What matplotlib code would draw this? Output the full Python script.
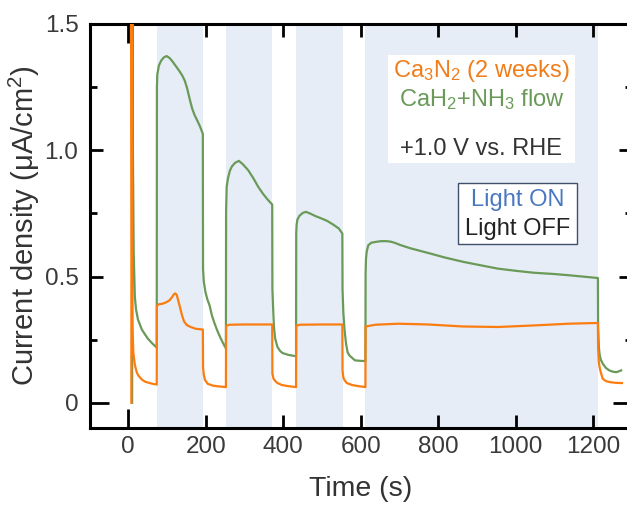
import matplotlib
matplotlib.use("Agg")
import matplotlib.pyplot as plt
from matplotlib.ticker import FixedLocator
from matplotlib.patches import Rectangle

plt.rcParams['font.family'] = ['Liberation Sans', 'DejaVu Sans']
plt.rcParams['mathtext.fontset'] = 'custom'
plt.rcParams['mathtext.rm'] = 'Liberation Sans'
plt.rcParams['mathtext.it'] = 'Liberation Sans:italic'

# ---------------- data ----------------
light_on_start = [74, 252, 433, 612]
light_on_end = [193, 372, 553, 1212]

green_t = [10, 10.5, 12, 14, 17, 20, 25, 35, 50, 62, 73.5,
           74, 75, 79, 85, 92, 99, 107, 115, 122, 130, 139, 146, 152, 159, 165, 171, 178, 185, 192.5,
           193, 195, 199, 204, 210, 216, 223, 230, 238, 246, 252,
           252.5, 254, 257.5, 262.5, 267.5, 275.5, 285.5, 295.5, 309.5, 322.5, 335.5, 347.5, 359.5, 371.5,
           372, 374, 376, 379, 385, 392, 398, 412, 433,
           433.5, 434.5, 436.5, 441.5, 450.5, 458.5, 468.5, 483.5, 498.5, 513.5, 528.5, 543.5, 552.5,
           553, 555, 558, 562, 566, 571, 585, 598, 612,
           612.5, 613.5, 615.5, 619.5, 627.5, 638.5, 652.5, 665.5, 677.5, 688.5, 701.5, 727.5, 774.5,
           817.5, 864.5, 907.5, 954.5, 997.5, 1045.5, 1097.5, 1136.5, 1177.5, 1212,
           1212.5, 1214.5, 1216.5, 1219.5, 1224.5, 1232.5, 1241.5, 1250.5, 1259.5, 1272]
green_v = [0.0, 1.8, 1.0, 0.6, 0.42, 0.37, 0.33, 0.29, 0.255, 0.235, 0.218,
           1.25, 1.30, 1.335, 1.355, 1.368, 1.373, 1.365, 1.35, 1.335, 1.318, 1.297, 1.275, 1.245, 1.2, 1.165, 1.14, 1.118, 1.095, 1.065,
           0.53, 0.48, 0.44, 0.41, 0.385, 0.345, 0.313, 0.285, 0.257, 0.232, 0.215,
           0.76, 0.855, 0.89, 0.92, 0.936, 0.95, 0.958, 0.945, 0.921, 0.89, 0.855, 0.828, 0.805, 0.785,
           0.45, 0.37, 0.30, 0.255, 0.221, 0.205, 0.197, 0.19, 0.184,
           0.67, 0.705, 0.725, 0.74, 0.752, 0.756, 0.75, 0.739, 0.73, 0.72, 0.706, 0.69, 0.67,
           0.45, 0.36, 0.29, 0.235, 0.2, 0.187, 0.168, 0.166, 0.165,
           0.51, 0.57, 0.60, 0.624, 0.634, 0.637, 0.64, 0.64, 0.638, 0.633, 0.625, 0.612, 0.593,
           0.575, 0.558, 0.545, 0.531, 0.523, 0.515, 0.51, 0.505, 0.499, 0.494,
           0.30, 0.22, 0.19, 0.17, 0.155, 0.138, 0.128, 0.123, 0.121, 0.128]

orange_t = [8, 8.5, 10, 11, 13, 17, 22, 26, 35, 44, 60, 73.5,
            74, 79, 88, 97, 106, 113, 118, 121, 125, 129, 134, 139, 144, 151, 161, 174, 192.5,
            193, 195, 198, 205, 218, 232, 252,
            252.5, 262, 300, 340, 371.5,
            372, 375, 380, 385, 397, 412, 433,
            433.5, 443, 500, 552.5,
            553, 555, 558, 564, 578, 593, 612,
            612.5, 638, 697, 774, 864, 954, 1045, 1136, 1212,
            1212.5, 1214.5, 1216.5, 1219.5, 1224.5, 1232.5, 1241.5, 1257, 1274]
orange_v = [0.0, 1.8, 0.5, 0.3, 0.2, 0.15, 0.12, 0.108, 0.092, 0.083, 0.076, 0.072,
            0.385, 0.39, 0.392, 0.397, 0.405, 0.418, 0.43, 0.433, 0.428, 0.405, 0.375, 0.345, 0.322, 0.308, 0.30, 0.293, 0.29,
            0.14, 0.11, 0.09, 0.075, 0.068, 0.065, 0.062,
            0.305, 0.309, 0.31, 0.31, 0.31,
            0.115, 0.095, 0.085, 0.078, 0.07, 0.066, 0.062,
            0.305, 0.309, 0.31, 0.31,
            0.128, 0.10, 0.09, 0.078, 0.07, 0.066, 0.062,
            0.302, 0.309, 0.313, 0.31, 0.302, 0.30, 0.306, 0.313, 0.316,
            0.22, 0.16, 0.14, 0.12, 0.095, 0.086, 0.082, 0.079, 0.078]

x_ticks = [0, 200, 400, 600, 800, 1000, 1200]
x_ticklabels = ['0', '200', '400', '600', '800', '1000', '1200']
y_ticks = [0, 0.5, 1.0, 1.5]
y_ticklabels = ['0', '0.5', '1.0', '1.5']
y_minor = [0.25, 0.75, 1.25]

# ---------------- figure ----------------
W, H = 627, 505
fig = plt.figure(figsize=(W / 100, H / 100), dpi=100)
ax = fig.add_axes([89.5 / W, 1 - 428 / H, (632 - 89.5) / W, (428 - 24) / H])

shade = '#e6edf6'
for s, e in zip(light_on_start, light_on_end):
    ax.axvspan(s, e, color=shade, lw=0, zorder=0)

ax.plot(green_t, green_v, color='#6a9a58', lw=1.6, zorder=3)
ax.plot(orange_t, orange_v, color='#fb7d10', lw=1.6, zorder=4)

ax.set_xlim(-100, 1300)
ax.set_ylim(-0.1, 1.5)

ax.xaxis.set_major_locator(FixedLocator(x_ticks))
ax.set_xticklabels(x_ticklabels)
ax.yaxis.set_major_locator(FixedLocator(y_ticks))
ax.set_yticklabels(y_ticklabels)
ax.yaxis.set_minor_locator(FixedLocator(y_minor))

for sp in ax.spines.values():
    sp.set_linewidth(2.2)
ax.tick_params(which='both', direction='in', top=True, right=True, width=2.0,
               labelsize=17.5, labelcolor='#3a3a3a')
ax.tick_params(which='major', length=9.4)
ax.tick_params(which='minor', length=5)
ax.tick_params(axis='y', pad=8)
ax.tick_params(axis='x', pad=6)

# zero ticks are longer in the reference
xt = ax.xaxis.get_major_ticks()
yt = ax.yaxis.get_major_ticks()
for t in (xt[0], yt[0]):
    t.tick1line.set_markersize(13.7)
    t.tick2line.set_markersize(13.7)

ax.set_xlabel('Time (s)', fontsize=20.5, color='#333333')
ax.xaxis.set_label_coords(0.5, -0.118)
ax.set_ylabel('Current density (μA/cm$^\\mathregular{2}$)', fontsize=21, color='#333333')
ax.yaxis.set_label_coords(-0.088, 0.5)

def fx(x):
    return x / W

def fy(y):
    return 1 - y / H

# white annotation box
ax.add_patch(Rectangle((fx(388), fy(163)), (575 - 388) / W, (163 - 55) / H,
                       transform=fig.transFigure, facecolor='white', edgecolor='none',
                       zorder=5, clip_on=False))
fig.text(fx(481.5), fy(77.5), 'Ca$_\\mathregular{3}$N$_\\mathregular{2}$ (2 weeks)', color='#f07d1a',
         fontsize=17, ha='center', va='baseline', zorder=6)
fig.text(fx(481.5), fy(106.5), 'CaH$_\\mathregular{2}$+NH$_\\mathregular{3}$ flow', color='#6a9a58',
         fontsize=17, ha='center', va='baseline', zorder=6)
fig.text(fx(481.5), fy(155), '+1.0 V vs. RHE', color='#333333',
         fontsize=17, ha='center', va='baseline', zorder=6)

# light on/off box
ax.add_patch(Rectangle((fx(458), fy(244)), (577 - 458) / W, (244 - 183) / H,
                       transform=fig.transFigure, facecolor='white', edgecolor='#3f4f6a',
                       lw=1.0, zorder=5, clip_on=False))
fig.text(fx(517.5), fy(206.5), 'Light ON', color='#4a78c0',
         fontsize=17, ha='center', va='baseline', zorder=6)
fig.text(fx(517.5), fy(235), 'Light OFF', color='#222222',
         fontsize=17, ha='center', va='baseline', zorder=6)

fig.savefig('out.png', dpi=100)
